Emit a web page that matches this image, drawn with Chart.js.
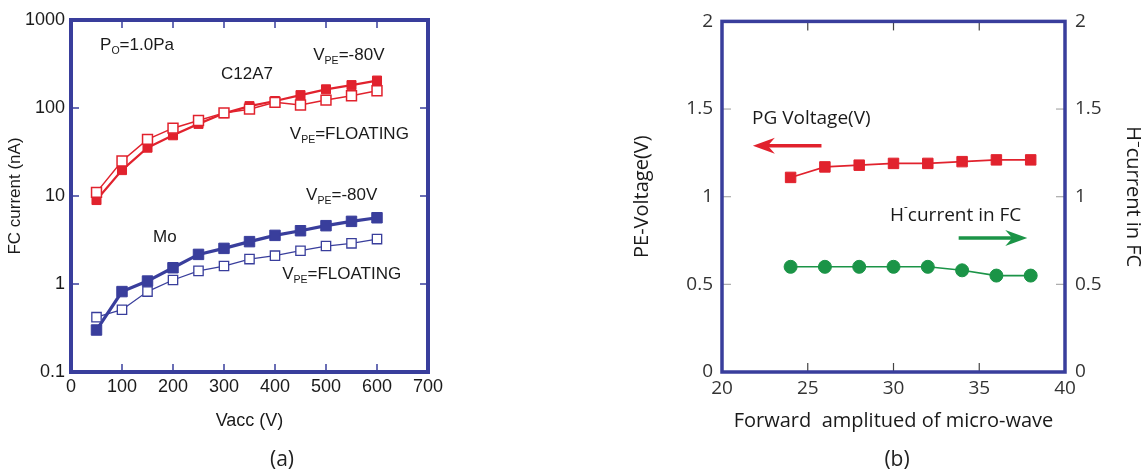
<!DOCTYPE html>
<html>
<head>
<meta charset="utf-8">
<script src="https://cdn.jsdelivr.net/npm/chart.js@4.4.1/dist/chart.umd.min.js"></script>
<style>
  html, body { margin: 0; padding: 0; background: #fff; }
  #wrap { position: relative; width: 1148px; height: 473px; }
  #chartA { position: absolute; left: 0; top: 0; }
  #chartB { position: absolute; left: 580px; top: 0; }
</style>
</head>
<body>
<div id="wrap">
  <canvas id="chartA" width="470" height="473"></canvas>
  <canvas id="chartB" width="568" height="473"></canvas>
</div>
<script>
// (a) FC current vs Vacc
const vacc = [50, 100, 150, 200, 250, 300, 350, 400, 450, 500, 550, 600];
const c12a7Biased = [9.0, 19.7, 35.4, 49, 66, 87, 105, 120, 140, 163, 182, 205];
const c12a7Floating = [11, 25, 44, 59, 72, 88, 97, 116, 108, 123, 138, 157];
const moBiased = [0.30, 0.82, 1.08, 1.53, 2.17, 2.54, 3.03, 3.57, 4.03, 4.6, 5.15, 5.66];
const moFloating = [0.42, 0.51, 0.82, 1.11, 1.41, 1.6, 1.92, 2.1, 2.39, 2.7, 2.9, 3.24];
const fcTicks = [0.1, 1, 10, 100, 1000];

// (b) PE voltage and H- current vs forward amplitude
const forwardAmp = [24, 26, 28, 30, 32, 34, 36, 38];
const pgVoltage = [1.11, 1.17, 1.18, 1.19, 1.19, 1.20, 1.21, 1.21];
const hCurrent = [0.60, 0.60, 0.60, 0.60, 0.60, 0.58, 0.55, 0.55];

const RED = '#e1222d';
const BLUE = '#393e9c';
const GREEN = '#1b9447';
const FONT_A = 'Liberation Sans, Arial, sans-serif';
const FONT_B = 'Open Sans, Noto Sans, sans-serif';

function pts(xs, ys) {
  return xs.map((x, i) => ({ x: x, y: ys[i] }));
}

function drawRich(ctx, parts, x, y, size, family, color) {
  ctx.fillStyle = color;
  ctx.textBaseline = 'middle';
  ctx.textAlign = 'left';
  let cx = x;
  parts.forEach(p => {
    const s = (p.sub || p.sup) ? size * 0.62 : size;
    const dy = p.sub ? size * 0.38 : (p.sup ? -size * 0.4 : 0);
    ctx.font = s + 'px ' + family;
    ctx.fillText(p.t, cx, y + dy);
    cx += ctx.measureText(p.t).width;
  });
}

// frame, inward ticks, notes and arrows
const decorations = {
  id: 'decorations',
  afterDatasetsDraw(chart, args, o) {
    const { ctx, chartArea: a, scales } = chart;
    const xs = scales.x;
    ctx.save();
    const seg = (x1, y1, x2, y2) => {
      ctx.beginPath(); ctx.moveTo(x1, y1); ctx.lineTo(x2, y2); ctx.stroke();
    };
    ctx.lineWidth = o.tickWidth;
    ctx.strokeStyle = o.xTickColor;
    xs.ticks.forEach(t => {
      if (t.value <= xs.min || t.value >= xs.max) return;
      const px = xs.getPixelForValue(t.value);
      seg(px, a.top, px, a.top + o.tickLen);
      seg(px, a.bottom, px, a.bottom - o.tickLen);
    });
    const ys = scales.y;
    ctx.strokeStyle = o.yTickColor;
    ys.ticks.forEach(t => {
      if (t.value <= ys.min || t.value >= ys.max) return;
      const py = ys.getPixelForValue(t.value);
      seg(a.left, py, a.left + o.tickLen, py);
      seg(a.right, py, a.right - o.tickLen, py);
    });

    (o.arrows || []).forEach(ar => {
      const x1 = xs.getPixelForValue(ar.from), x2 = xs.getPixelForValue(ar.to);
      const py = ys.getPixelForValue(ar.y);
      const dir = Math.sign(x2 - x1);
      ctx.strokeStyle = ar.color; ctx.fillStyle = ar.color; ctx.lineWidth = 3.5;
      seg(x1, py, x2 - dir * 14, py);
      ctx.beginPath();
      ctx.moveTo(x2, py);
      ctx.lineTo(x2 - dir * 22, py - 8);
      ctx.lineTo(x2 - dir * 15, py);
      ctx.lineTo(x2 - dir * 22, py + 8);
      ctx.closePath();
      ctx.fill();
    });

    (o.notes || []).forEach(n => {
      drawRich(ctx, n.parts, xs.getPixelForValue(n.x), ys.getPixelForValue(n.y), o.noteSize, o.noteFont, '#1a1a1a');
    });

    ctx.strokeStyle = o.frameColor;
    ctx.lineWidth = o.frameWidth;
    ctx.strokeRect(a.left, a.top, a.right - a.left, a.bottom - a.top);

    if (o.caption) {
      ctx.font = '21px ' + FONT_B;
      ctx.fillStyle = '#222';
      ctx.textAlign = 'center';
      ctx.textBaseline = 'middle';
      ctx.fillText(o.caption.text, o.caption.x, o.caption.y);
    }
    ctx.restore();
  }
};

const V = { t: 'V' }, PE = { t: 'PE', sub: true };

new Chart(document.getElementById('chartA'), {
  type: 'line',
  data: {
    datasets: [
      { data: pts(vacc, c12a7Floating), borderColor: RED, borderWidth: 1.5, backgroundColor: '#fff',
        pointStyle: 'rect', pointRadius: 7, pointBorderWidth: 1.5, pointBorderColor: RED, pointBackgroundColor: '#fff' },
      { data: pts(vacc, c12a7Biased), borderColor: RED, borderWidth: 2.2, backgroundColor: RED,
        pointStyle: 'rect', pointRadius: 6.4, pointBorderWidth: 1, pointBorderColor: RED, pointBackgroundColor: RED },
      { data: pts(vacc, moFloating), borderColor: BLUE, borderWidth: 1.3, backgroundColor: '#fff',
        pointStyle: 'rect', pointRadius: 6.6, pointBorderWidth: 1.3, pointBorderColor: BLUE, pointBackgroundColor: '#fff' },
      { data: pts(vacc, moBiased), borderColor: BLUE, borderWidth: 3.2, backgroundColor: BLUE,
        pointStyle: 'rect', pointRadius: 7.4, pointBorderWidth: 1, pointBorderColor: BLUE, pointBackgroundColor: BLUE }
    ]
  },
  options: {
    responsive: false,
    animation: false,
    layout: { padding: { top: 20, right: 42, bottom: 33, left: 0 } },
    plugins: {
      legend: { display: false },
      tooltip: { enabled: false },
      decorations: {
        tickLen: 8, tickWidth: 1.5, xTickColor: BLUE, yTickColor: BLUE,
        frameColor: BLUE, frameWidth: 4,
        noteSize: 17, noteFont: FONT_A,
        notes: [
          { x: 57, y: 520, parts: [{ t: 'P' }, { t: 'O', sub: true }, { t: '=1.0Pa' }] },
          { x: 294, y: 243, parts: [{ t: 'C12A7' }] },
          { x: 475, y: 400, parts: [V, PE, { t: '=-80V' }] },
          { x: 429, y: 50.7, parts: [V, PE, { t: '=FLOATING' }] },
          { x: 461, y: 10.3, parts: [V, PE, { t: '=-80V' }] },
          { x: 161, y: 3.42, parts: [{ t: 'Mo' }] },
          { x: 414, y: 1.3, parts: [V, PE, { t: '=FLOATING' }] }
        ],
        caption: { text: '(a)', x: 282, y: 460 }
      }
    },
    scales: {
      x: {
        type: 'linear', min: 0, max: 700,
        ticks: { stepSize: 100, padding: 4, color: '#1a1a1a', font: { family: FONT_A, size: 18 } },
        grid: { display: false, drawTicks: false },
        border: { display: false },
        title: { display: true, text: 'Vacc (V)', color: '#1a1a1a', font: { family: FONT_A, size: 18 }, padding: { top: 0, bottom: 8 } },
        afterFit: s => { s.height = 68; }
      },
      y: {
        type: 'logarithmic', min: 0.1, max: 1000,
        afterBuildTicks: s => { s.ticks = fcTicks.map(v => ({ value: v })); },
        ticks: { padding: 6, color: '#1a1a1a', font: { family: FONT_A, size: 18 }, callback: v => String(v) },
        grid: { display: false, drawTicks: false },
        border: { display: false },
        title: { display: true, text: 'FC current (nA)', color: '#1a1a1a', font: { family: FONT_A, size: 17 }, padding: { top: 5, bottom: 0 } },
        afterFit: s => { s.width = 71; }
      }
    }
  },
  plugins: [decorations]
});

new Chart(document.getElementById('chartB'), {
  type: 'line',
  data: {
    datasets: [
      { data: pts(forwardAmp, pgVoltage), yAxisID: 'y', borderColor: RED, borderWidth: 1.6, backgroundColor: RED,
        pointStyle: 'rect', pointRadius: 7.4, pointBorderWidth: 1, pointBorderColor: RED, pointBackgroundColor: RED },
      { data: pts(forwardAmp, hCurrent), yAxisID: 'y2', borderColor: GREEN, borderWidth: 1.6, backgroundColor: GREEN,
        pointStyle: 'circle', pointRadius: 6.5, pointBorderWidth: 1, pointBorderColor: GREEN, pointBackgroundColor: GREEN }
    ]
  },
  options: {
    responsive: false,
    animation: false,
    layout: { padding: { top: 14, right: 0, bottom: 33, left: 0 } },
    plugins: {
      legend: { display: false },
      tooltip: { enabled: false },
      decorations: {
        tickLen: 9, tickWidth: 1.2, xTickColor: '#444', yTickColor: '#aaa',
        frameColor: BLUE, frameWidth: 3.5,
        noteSize: 19, noteFont: FONT_B,
        notes: [
          { x: 21.75, y: 1.447, parts: [{ t: 'PG Voltage(V)' }] },
          { x: 29.8, y: 0.894, parts: [{ t: 'H' }, { t: '-', sup: true }, { t: 'current in FC' }] }
        ],
        arrows: [
          { from: 25.8, to: 21.8, y: 1.29, color: RED },
          { from: 33.8, to: 37.8, y: 0.765, color: GREEN }
        ],
        caption: { text: '(b)', x: 317, y: 460 }
      }
    },
    scales: {
      x: {
        type: 'linear', min: 20, max: 40,
        ticks: { stepSize: 5, padding: 5, color: '#333', font: { family: FONT_B, size: 19 } },
        grid: { display: false, drawTicks: false },
        border: { display: false },
        title: { display: true, text: 'Forward  amplitued of micro-wave', color: '#1a1a1a', font: { family: FONT_B, size: 20 }, padding: { top: 0, bottom: 7 } },
        afterFit: s => { s.height = 68; }
      },
      y: {
        type: 'linear', position: 'left', min: 0, max: 2,
        ticks: { stepSize: 0.5, padding: 9, color: '#333', font: { family: FONT_B, size: 19 }, callback: v => String(v) },
        grid: { display: false, drawTicks: false },
        border: { display: false },
        title: { display: true, text: 'PE-Voltage(V)', color: '#1a1a1a', font: { family: FONT_B, size: 20 }, padding: { top: 50, bottom: 0 } },
        afterFit: s => { s.width = 142; }
      },
      y2: {
        type: 'linear', position: 'right', min: 0, max: 2,
        ticks: { stepSize: 0.5, padding: 10, color: '#333', font: { family: FONT_B, size: 19 }, callback: v => String(v) },
        grid: { display: false, drawTicks: false },
        border: { display: false },
        title: { display: true, text: 'H\u207Bcurrent in FC', color: '#1a1a1a', font: { family: FONT_B, size: 20 }, padding: { top: 3, bottom: 0 } },
        afterFit: s => { s.width = 83; }
      }
    }
  },
  plugins: [decorations]
});
</script>
</body>
</html>
